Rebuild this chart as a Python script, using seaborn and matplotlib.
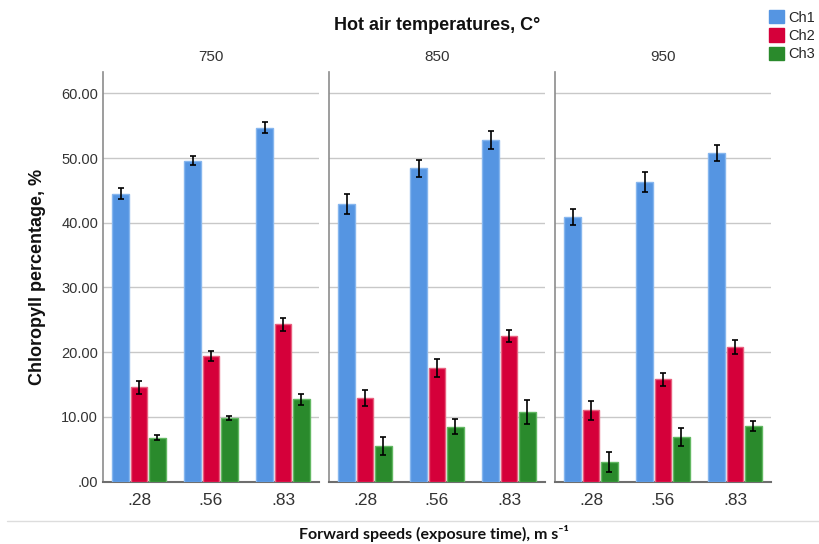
import numpy as np
import pandas as pd
import matplotlib
matplotlib.use("Agg")
import matplotlib.pyplot as plt
import seaborn as sns
from matplotlib.lines import Line2D
from matplotlib.patches import Patch

# ---- data ----
temperatures = ["750", "850", "950"]
speeds = [".28", ".56", ".83"]
series = ["Ch1", "Ch2", "Ch3"]

ch1_750 = [44.5, 49.6, 54.7]
ch2_750 = [14.6, 19.4, 24.3]
ch3_750 = [6.8, 9.8, 12.7]
ch1_850 = [42.9, 48.4, 52.8]
ch2_850 = [12.9, 17.6, 22.5]
ch3_850 = [5.5, 8.5, 10.7]
ch1_950 = [40.9, 46.3, 50.8]
ch2_950 = [11.0, 15.8, 20.8]
ch3_950 = [3.0, 6.9, 8.6]

err1_750 = [0.85, 0.7, 0.85]
err2_750 = [1.0, 0.75, 1.05]
err3_750 = [0.4, 0.35, 0.8]
err1_850 = [1.6, 1.3, 1.45]
err2_850 = [1.3, 1.4, 0.9]
err3_850 = [1.4, 1.15, 1.85]
err1_950 = [1.2, 1.6, 1.2]
err2_950 = [1.45, 1.0, 1.1]
err3_950 = [1.55, 1.4, 0.8]

yticks = [0, 10, 20, 30, 40, 50, 60]
ytick_labels = [".00", "10.00", "20.00", "30.00", "40.00", "50.00", "60.00"]

title = "Hot air temperatures, C°"
ylabel = "Chloropyll percentage, %"
xlabel = "Forward speeds (exposure time), m s⁻¹"

colors = {"Ch1": "#5595E2", "Ch2": "#D5003A", "Ch3": "#2A8A2C"}
edges = {"Ch1": "#86B6EE", "Ch2": "#E8607E", "Ch3": "#62B862"}

values = {
    "750": [ch1_750, ch2_750, ch3_750],
    "850": [ch1_850, ch2_850, ch3_850],
    "950": [ch1_950, ch2_950, ch3_950],
}
errors = {
    "750": [err1_750, err2_750, err3_750],
    "850": [err1_850, err2_850, err3_850],
    "950": [err1_950, err2_950, err3_950],
}

rows = []
for t in temperatures:
    for si, s in enumerate(series):
        for ki, sp in enumerate(speeds):
            rows.append({"temp": t, "series": s, "speed": sp,
                         "value": values[t][si][ki], "err": errors[t][si][ki]})
df = pd.DataFrame(rows)

sns.set_theme(style="white")
plt.rcParams["font.family"] = ["Liberation Sans", "DejaVu Sans"]

W, H = 820, 544
fig = plt.figure(figsize=(W / 100, H / 100), dpi=100)

panel_left = [103, 329, 555]
panel_w = 216
top_px, bot_px = 72, 481.5
ymax = 63.3

for pi, t in enumerate(temperatures):
    ax = fig.add_axes([panel_left[pi] / W, 1 - bot_px / H, panel_w / W, (bot_px - top_px) / H])
    sub = df[df["temp"] == t]
    sns.barplot(data=sub, x="speed", y="value", hue="series", order=speeds,
                hue_order=series, palette=colors, errorbar=None, width=0.76,
                gap=0.08, saturation=1, ax=ax, legend=False, zorder=3)
    for si, s in enumerate(series):
        cont = ax.containers[si]
        for ki, bar in enumerate(cont):
            bar.set_edgecolor(edges[s])
            bar.set_linewidth(1.0)
            cx = bar.get_x() + bar.get_width() / 2
            ax.errorbar(cx, bar.get_height(),
                        yerr=sub[(sub["series"] == s) & (sub["speed"] == speeds[ki])]["err"].values[0],
                        color="black", capsize=2, elinewidth=1.2, capthick=1.2, zorder=5)
    ax.set_ylim(0, ymax)
    ax.set_xlim(-0.5, 2.5)
    ax.set_yticks(yticks)
    ax.yaxis.grid(True, color="#C8C8C8", linewidth=1.0, zorder=0)
    ax.set_axisbelow(True)
    ax.xaxis.grid(False)
    for sp in ["top", "right"]:
        ax.spines[sp].set_visible(False)
    ax.spines["left"].set_color("#8C8C8C")
    ax.spines["left"].set_linewidth(1.2)
    ax.spines["bottom"].set_color("#6E6E6E")
    ax.spines["bottom"].set_linewidth(1.5)
    ax.tick_params(axis="both", length=0)
    ax.tick_params(axis="x", labelsize=12.5, labelcolor="#333333", pad=8)
    if pi == 0:
        ax.set_yticklabels(ytick_labels, fontsize=10.5, color="#333333")
    else:
        ax.set_yticklabels([])
    ax.set_xlabel("")
    ax.set_ylabel("")
    ax.set_title(t, fontsize=11, color="#333333", pad=8)

fig.text(437 / W, 1 - 25 / H, title, ha="center", va="center",
         fontsize=13, fontweight="bold", color="#111111")
fig.text(38 / W, 1 - 277 / H, ylabel, ha="center", va="center", rotation=90,
         fontsize=13, fontweight="bold", color="#111111")
fig.text(434 / W, 1 - 534 / H, xlabel, ha="center", va="center",
         fontsize=11.5, fontweight="bold", color="#111111", family=["Lato", "DejaVu Sans"])

fig.add_artist(Line2D([7 / W, 1.0], [1 - 521 / H, 1 - 521 / H], color="#DDDDDD", linewidth=1))

handles = [Patch(facecolor=colors[s], edgecolor=colors[s]) for s in series]
fig.legend(handles, series, loc="upper left", bbox_to_anchor=(762 / W, 1 - 3 / H),
           frameon=False, fontsize=10.5, handlelength=1.0, handleheight=1.0,
           handletextpad=0.3, labelspacing=0.25, borderpad=0.0)

fig.savefig("out.png", dpi=100)
